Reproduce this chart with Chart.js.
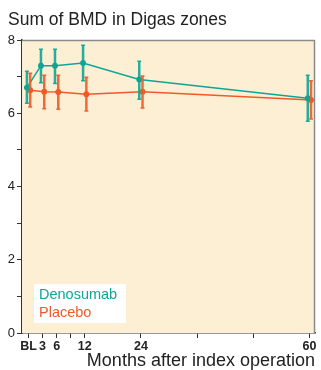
<!DOCTYPE html>
<html><head><meta charset="utf-8">
<script src="https://cdn.jsdelivr.net/npm/chart.js@4"></script>
<style>html,body{margin:0;padding:0;background:#fff}#c{display:block}</style>
</head><body>
<canvas id="c" width="321" height="370"></canvas>
<script>
const months = [0, 3, 6, 12, 24, 60];
const tickValues = [0, 3, 6, 9, 12, 24, 36, 48, 60];
const tickLabels = ['BL', '3', '6', '', '12', '24', '', '', '60'];
const denoMean = [6.70, 7.30, 7.30, 7.37, 6.92, 6.41];
const denoLow  = [6.27, 6.83, 6.81, 6.89, 6.38, 5.78];
const denoHigh = [7.15, 7.75, 7.75, 7.86, 7.42, 7.04];
const placMean = [6.63, 6.59, 6.58, 6.52, 6.59, 6.36];
const placLow  = [6.17, 6.12, 6.11, 6.06, 6.14, 5.84];
const placHigh = [7.09, 7.04, 7.04, 6.98, 7.02, 6.89];
const TEAL = '#0fa596', ORANGE = '#f05a28';
const DODGE = 0.35;
const FONT = '"Liberation Sans", Arial, sans-serif';

function pts(mean, dx){ return months.map((m,i)=>({x:m+dx, y:mean[i]})); }

const errorBars = {
  id:'errorBars',
  beforeDatasetsDraw(chart){
    const {ctx, chartArea:a} = chart;
    ctx.save();
    ctx.fillStyle = '#fdefd3';
    ctx.fillRect(a.left, a.top, a.right-a.left, a.bottom-a.top);
    ctx.strokeStyle = '#8a8a8a'; ctx.lineWidth = 1.5;
    ctx.beginPath(); ctx.moveTo(a.left, a.top+0.5); ctx.lineTo(a.right-0.5, a.top+0.5); ctx.lineTo(a.right-0.5, a.bottom); ctx.stroke();
    ctx.restore();
  },
  afterDatasetsDraw(chart){
    const {ctx, scales:{x, y}} = chart;
    const sets = [[denoLow, denoHigh, -DODGE, TEAL],[placLow, placHigh, DODGE, ORANGE]];
    ctx.save();
    sets.forEach(([lo, hi, dx, col])=>{
      ctx.strokeStyle = col; ctx.globalAlpha = 0.9;
      months.forEach((m,i)=>{
        const px = x.getPixelForValue(m+dx);
        const y1 = y.getPixelForValue(lo[i]), y2 = y.getPixelForValue(hi[i]);
        ctx.lineWidth = 2.5;
        ctx.beginPath(); ctx.moveTo(px, y1); ctx.lineTo(px, y2); ctx.stroke();
        ctx.lineWidth = 1.5;
        ctx.beginPath(); ctx.moveTo(px-2, y1); ctx.lineTo(px+2, y1); ctx.moveTo(px-2, y2); ctx.lineTo(px+2, y2); ctx.stroke();
      });
    });
    ctx.restore();
  },
  afterDraw(chart){
    const {ctx, chartArea:a} = chart;
    ctx.save();
    ctx.fillStyle = '#ffffff';
    ctx.fillRect(a.left+12, a.bottom-49, 92, 39);
    ctx.font = '14.5px ' + FONT;
    ctx.textBaseline = 'alphabetic';
    ctx.fillStyle = TEAL; ctx.fillText('Denosumab', a.left+17, a.bottom-34);
    ctx.fillStyle = ORANGE; ctx.fillText('Placebo', a.left+17, a.bottom-16.5);
    ctx.restore();
  }
};

new Chart(document.getElementById('c'), {
  type:'line',
  data:{datasets:[
    {label:'Denosumab', data:pts(denoMean,-DODGE), borderColor:TEAL, backgroundColor:TEAL, borderWidth:1.5, pointRadius:2.2, pointHoverRadius:2.2, tension:0},
    {label:'Placebo', data:pts(placMean,DODGE), borderColor:ORANGE, backgroundColor:ORANGE, borderWidth:1.5, pointRadius:2.2, pointHoverRadius:2.2, tension:0}
  ]},
  options:{
    responsive:false, animation:false, events:[],
    layout:{padding:{left:8, right:6, top:0, bottom:0}},
    plugins:{
      legend:{display:false}, tooltip:{enabled:false},
      title:{display:true, text:'Sum of BMD in Digas zones', align:'start', color:'#222',
        font:{family:FONT, size:17.5, weight:'normal'}, padding:{top:10, bottom:9}}
    },
    scales:{
      x:{type:'linear', min:-1.4, max:61.2,
        afterBuildTicks(s){ s.ticks = tickValues.map(v=>({value:v})); },
        afterFit(s){ s.height = 37; },
        ticks:{autoSkip:false, maxRotation:0, padding:1, color:'#222',
          font:{family:FONT, size:12.5, weight:'bold'},
          callback(v){ const i = tickValues.indexOf(v); return i>=0 ? tickLabels[i] : ''; }},
        grid:{drawOnChartArea:false, tickLength:5, color:'#333', tickWidth:1},
        border:{color:'#333', width:1.5},
        title:{display:true, text:'Months after index operation', align:'end', color:'#222',
          font:{family:FONT, size:18}, padding:{top:0, bottom:-2}}
      },
      y:{type:'linear', min:0, max:8,
        afterBuildTicks(s){ s.ticks = [0,1,2,3,4,5,6,7,8].map(v=>({value:v})); },
        afterFit(s){ s.width = 14; },
        ticks:{autoSkip:false, padding:2, color:'#222',
          font:{family:FONT, size:13},
          callback(v){ return v%2===0 ? String(v) : ''; }},
        grid:{drawOnChartArea:false, tickLength:5, color:'#333'},
        border:{color:'#333', width:1.5}
      }
    }
  },
  plugins:[errorBars]
});
</script>
</body></html>
